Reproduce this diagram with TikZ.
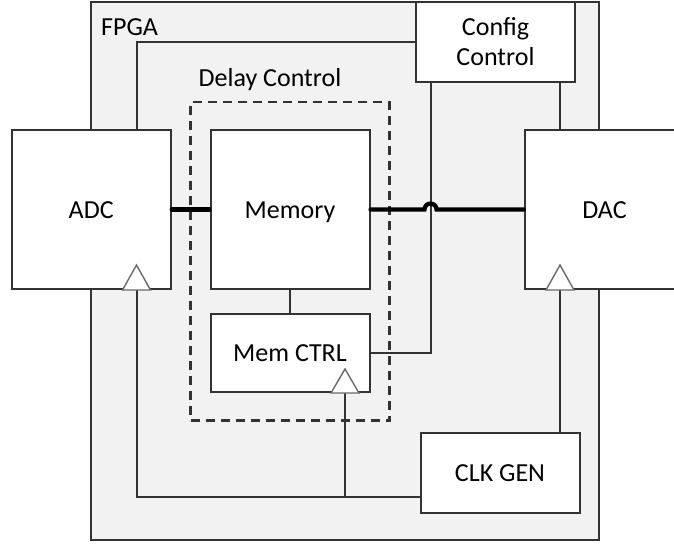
\documentclass[tikz,border=0pt]{standalone}
\usepackage{fontspec}
\setmainfont{Carlito}
\usetikzlibrary{calc}
\definecolor{edge}{HTML}{333333}
\definecolor{fpgafill}{HTML}{F2F2F2}
\definecolor{clkedge}{HTML}{6A6A6A}
\begin{document}
\begin{tikzpicture}[x=1pt,y=-1pt,
  every node/.style={font=\fontsize{26}{30}\selectfont},
  block/.style={draw=edge, line width=2pt, fill=white, inner sep=0pt, minimum width=159pt},
  capcenter/.style={text height=17pt, text depth=0pt},
  wire/.style={draw=edge, line width=2pt},
  bus/.style={draw=black, line width=4.2pt, line cap=round},
  clkmark/.style={draw=clkedge, line width=1.4pt, fill=white, line join=miter},
  group/.style={draw=edge, line width=2.2pt, dash pattern=on 9pt off 6pt, inner sep=0pt}
]
\useasboundingbox (0,0) rectangle (674,544);
\clip (0,0) rectangle (674,544);

% FPGA container
\node[draw=edge, line width=2pt, fill=fpgafill, inner sep=0pt,
      minimum width=508pt, minimum height=538pt] (fpga) at (345,271) {};
\node[anchor=base west, inner sep=0pt] (fpgalbl) at (101,35) {FPGA};

% Delay control group
\node[group, minimum width=199pt, minimum height=318.5pt] (delay) at (290,261.25) {};
\node[anchor=base, inner sep=0pt] (delaylbl) at (270,86) {Delay Control};

% routing columns and rows
\coordinate (xa) at (136.5,0);
\coordinate (xb) at (430.5,0);
\coordinate (xc) at (560,0);
\coordinate (xd) at (345,0);
\coordinate (yclk) at (0,497);

% blocks
\node[block, capcenter, minimum height=159pt] (adc) at (91.2,209.5) {ADC};
\node[block, capcenter, minimum height=159pt] (dac) at (604.5,209.5) {DAC};
\node[block, capcenter, minimum height=159pt] (mem) at (290,209.5) {Memory};
\node[block, capcenter, minimum height=78pt] (memctrl) at (290,353) {Mem CTRL};
\node[block, align=center, minimum height=80pt] (cfg) at (495.5,42) {Config\\Control};
\node[block, capcenter, minimum height=80pt] (clk) at (500,473) {CLK GEN};

% control wiring
\draw[wire] (cfg.west) -| (xa |- adc.north);
\draw[wire] (xb |- cfg.south) |- (memctrl.east);
\draw[wire] (xc |- cfg.south) -- (xc |- dac.north);
\draw[wire] (mem.south) -- (memctrl.north);

% clock distribution
\draw[wire] (xc |- dac.south) -- (xc |- clk.north);
\draw[wire] (xa |- adc.south) |- (clk.west |- yclk);
\draw[wire] (xd |- memctrl.south) |- (clk.west |- yclk);

% data path
\draw[bus] (adc.east) -- (mem.west);
\draw[bus] (mem.east) -- ($(xb |- mem.east)+(-6,0)$)
  arc[start angle=180, end angle=360, radius=6] -- (dac.west);

% clock input markers
\draw[clkmark] ($(xa |- adc.south)+(-14,0)$) -- ++(14,-25) -- ++(14,25) -- cycle;
\draw[clkmark] ($(xc |- dac.south)+(-14,0)$) -- ++(14,-25) -- ++(14,25) -- cycle;
\draw[clkmark] ($(xd |- memctrl.south)+(-14,0)$) -- ++(14,-24) -- ++(14,24) -- cycle;
\end{tikzpicture}
\end{document}
